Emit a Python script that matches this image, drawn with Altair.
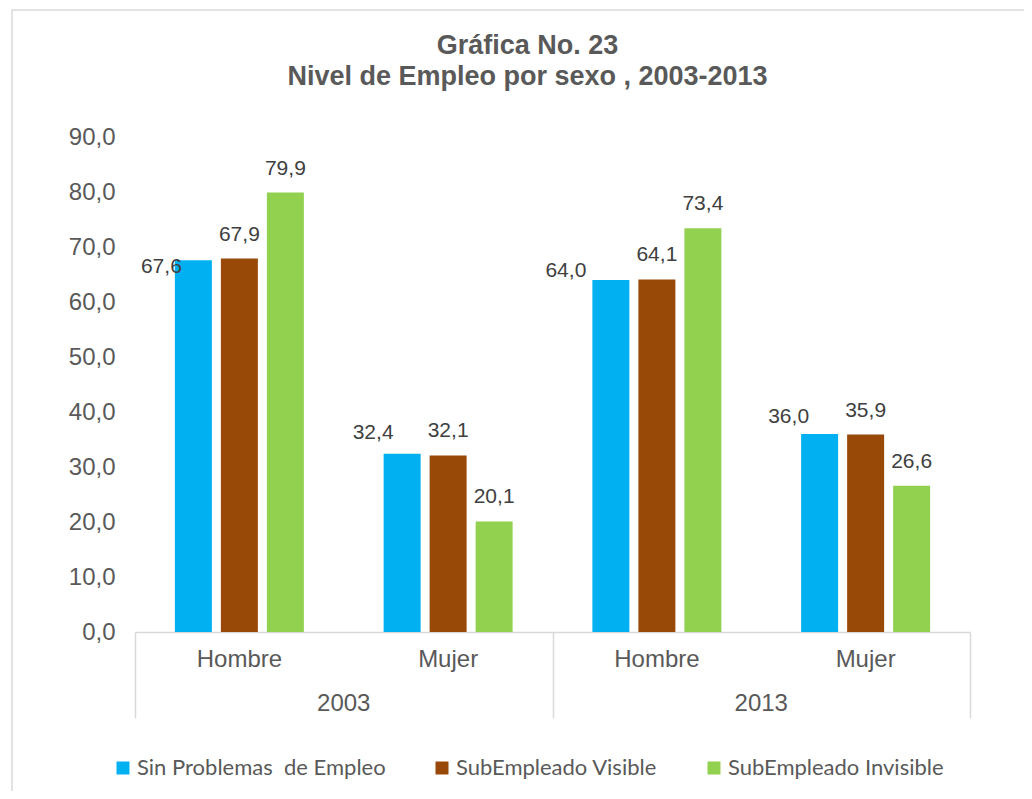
import altair as alt
import pandas as pd

# ---- data ----
titulo = ["Gráfica No. 23", "Nivel de Empleo por sexo , 2003-2013"]
anios = ["2003", "2003", "2013", "2013"]
sexos = ["Hombre", "Mujer", "Hombre", "Mujer"]
series = ["Sin Problemas\u00a0 de Empleo", "SubEmpleado Visible", "SubEmpleado Invisible"]
sin_problemas = [67.6, 32.4, 64.0, 36.0]
sub_visible = [67.9, 32.1, 64.1, 35.9]
sub_invisible = [79.9, 20.1, 73.4, 26.6]
colores = ["#00B0F0", "#984807", "#92D050"]
y_ticks = [0, 10, 20, 30, 40, 50, 60, 70, 80, 90]
anios_unicos = ["2003", "2013"]

grp_order = [f"{a}|{s}" for a, s in zip(anios, sexos)]
rows = []
for i in range(len(anios)):
    for s, vals in zip(series, [sin_problemas, sub_visible, sub_invisible]):
        rows.append({"grp": grp_order[i], "anio": anios[i], "sexo": sexos[i],
                     "serie": s, "valor": vals[i]})
df = pd.DataFrame(rows)
cats = pd.DataFrame({"grp": grp_order, "sexo": sexos})
years = pd.DataFrame({"anio": anios_unicos})
one = pd.DataFrame({"k": [0]})

W, H = 835, 495
FONT = "Liberation Sans"
GREY = "#595959"
LABEL = "#404040"
LINE = "#d9d9d9"

x_grp = alt.X("grp:N", axis=None,
              scale=alt.Scale(domain=grp_order, paddingInner=0, paddingOuter=0))
x_off = alt.XOffset("serie:N",
                    scale=alt.Scale(domain=series, paddingInner=0.196, paddingOuter=0.867))
y_enc = alt.Y("valor:Q", scale=alt.Scale(domain=[0, 90]),
              axis=alt.Axis(values=y_ticks,
                            labelExpr="replace(format(datum.value, '.1f'), '.', ',')",
                            grid=False, domain=False, ticks=False, title=None,
                            labelFontSize=24, labelColor=GREY, labelFont=FONT,
                            labelPadding=20))

bars = alt.Chart(df).mark_bar().encode(
    x=x_grp, xOffset=x_off, y=y_enc,
    color=alt.Color("serie:N", scale=alt.Scale(domain=series, range=colores),
                    legend=alt.Legend(orient="none", legendX=-23, legendY=620,
                                      direction="horizontal", title=None,
                                      symbolType="square", symbolSize=169,
                                      symbolStrokeWidth=0, labelLimit=0,
                                      labelFontSize=22, labelFont="Lato",
                                      labelColor=GREY, labelOffset=3,
                                      columnPadding=45)),
)

lab_expr = "replace(format(datum.valor, '.1f'), '.', ',')"
first = series[0]

# the first series' labels were nudged left in the original chart (dx, dy from bar top)
blue_nudges = {
    "2003|Hombre": (-32, 7),
    "2003|Mujer": (-29, -21),
    "2013|Hombre": (-45, -9),
    "2013|Mujer": (-31, -17),
}

labels = alt.Chart(df).transform_filter(f"datum.serie != '{first}'").transform_calculate(
    label=lab_expr
).mark_text(baseline="middle", dy=-24, fontSize=21, color=LABEL, font=FONT).encode(
    x=x_grp, xOffset=x_off, y=alt.Y("valor:Q"), text="label:N"
)

blue_layers = []
for g, (ddx, ddy) in blue_nudges.items():
    blue_layers.append(
        alt.Chart(df).transform_filter(
            f"datum.serie == '{first}' && datum.grp == '{g}'"
        ).transform_calculate(label=lab_expr).mark_text(
            baseline="middle", dx=ddx, dy=ddy, fontSize=21, color=LABEL, font=FONT
        ).encode(x=x_grp, xOffset=x_off, y=alt.Y("valor:Q"), text="label:N")
    )

sex_labels = alt.Chart(cats).mark_text(
    baseline="middle", fontSize=24, color=GREY, font=FONT
).encode(x=x_grp, y=alt.value(H + 28), text="sexo:N")

year_layer = alt.Chart(years).mark_text(
    baseline="middle", fontSize=24, color=GREY, font=FONT
).encode(
    x=alt.X("anio:N", scale=alt.Scale(domain=anios_unicos, paddingInner=0, paddingOuter=0),
            axis=alt.Axis(title=None, labels=False, tickBand="extent", tickExtra=True,
                          tickSize=86, tickColor=LINE, tickWidth=1.5,
                          domainColor=LINE, domainWidth=1.5)),
    y=alt.value(H + 72), text="anio:N",
)

# chart title (two bold lines) and the light frame around the whole chart
title_layers = [
    alt.Chart(one).mark_text(text=titulo[0], fontSize=27, font=FONT, fontWeight="bold",
                             color=GREY, baseline="middle", align="center").encode(
        x=alt.value(W / 2 - 25), y=alt.value(-91)),
    alt.Chart(one).mark_text(text=titulo[1], fontSize=27, font=FONT, fontWeight="bold",
                             color=GREY, baseline="middle", align="center").encode(
        x=alt.value(W / 2 - 25), y=alt.value(-60)),
]
border = alt.Chart(one).mark_rect(fill="transparent", stroke=LINE, strokeWidth=1.5).encode(
    x=alt.value(-123), x2=alt.value(W + 200), y=alt.value(-127), y2=alt.value(H + 300)
)

chart = alt.layer(
    alt.layer(bars, labels, *blue_layers, sex_labels),
    year_layer,
    *title_layers,
    border,
).resolve_scale(x="independent").properties(
    width=W, height=H,
    autosize=alt.AutoSizeParams(type="none"),
    padding={"left": 127, "top": 129, "right": 54, "bottom": 159},
).configure_view(stroke=None)

chart.save("out.html", embed_options={"renderer": "svg", "actions": False})
